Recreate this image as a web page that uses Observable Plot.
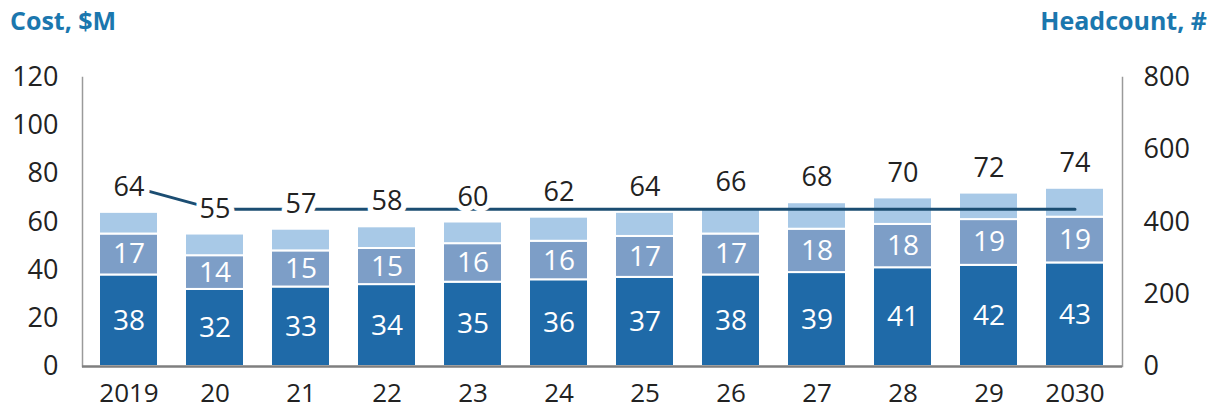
<!DOCTYPE html>
<html><head><meta charset="utf-8">
<script src="https://cdn.jsdelivr.net/npm/d3@7"></script>
<script src="https://cdn.jsdelivr.net/npm/@observablehq/plot@0.6"></script>
<style>
body{margin:0;background:#fff;font-family:"Open Sans",sans-serif;}
#titles{height:40px;display:flex;justify-content:space-between;align-items:center;padding:0 4px 0 10px;font-weight:700;font-size:25px;color:#1b77ae;}
</style></head><body>
<div id="titles"><span>Cost, $M</span><span>Headcount, #</span></div>
<div id="chart"></div>
<script>
const years = ["2019","20","21","22","23","24","25","26","27","28","29","2030"];
const base = [38,32,33,34,35,36,37,38,39,41,42,43];
const middle = [17,14,15,15,16,16,17,17,18,18,19,19];
const upper = [9,9,9,9,9,10,10,11,11,11,11,12];
const totals = [64,55,57,58,60,62,64,66,68,70,72,74];
const headcount = [500,435,435,435,435,435,435,435,435,435,435,435];
const costTicks = [0,20,40,60,80,100,120];
const headTicks = [0,200,400,600,800];
const costMax = 120, headMax = 800;

const segColors = {base:"#1f6aa8", middle:"#7d9ec7", upper:"#a8c9e7"};
const rows = years.flatMap((y,i) => [
  {year:y, seg:"base", value:base[i]},
  {year:y, seg:"middle", value:middle[i]},
  {year:y, seg:"upper", value:upper[i]}
]);
const inner = years.flatMap((y,i) => [
  {year:y, pos: base[i]/2, text: base[i]},
  {year:y, pos: base[i] + middle[i]/2, text: middle[i]}
]);
const hc = years.map((y,i) => ({year:y, v: headcount[i]*costMax/headMax}));
const tot = years.map((y,i) => ({year:y, v: totals[i]}));

const chart = Plot.plot({
  width: 1211, height: 371,
  marginLeft: 82, marginRight: 89, marginTop: 37, marginBottom: 45,
  style: {fontFamily: "Open Sans", fontSize: "26px", color: "#222", background: "white"},
  x: {domain: years, paddingInner: 0.31, paddingOuter: 0.155, label: null},
  y: {domain: [0, costMax], label: null},
  marks: [
    Plot.barY(rows, {x:"year", y:"value", z:"seg", fill: d => segColors[d.seg], stroke:"white", strokeWidth:2}),
    Plot.frame({anchor:"left", stroke:"#9a9a9a", strokeWidth:1.5}),
    Plot.frame({anchor:"right", stroke:"#9a9a9a", strokeWidth:1.5}),
    Plot.ruleY([0], {stroke:"#7f7f7f", strokeWidth:2.5}),
    Plot.line(hc, {x:"year", y:"v", stroke:"#1b4d72", strokeWidth:3}),
    Plot.text(inner, {x:"year", y:"pos", text:"text", fill:"white", fontSize:28}),
    Plot.text(tot, {x:"year", y:"v", text:"v", dy:-25, fill:"#222", stroke:"white", strokeWidth:11, fontSize:27}),
    Plot.axisY(costTicks, {anchor:"left", tickSize:0, tickPadding:24, label:null, fontSize:27}),
    Plot.axisY(headTicks.map(h => h*costMax/headMax), {anchor:"right", tickSize:0, tickPadding:21, label:null, fontSize:27, tickFormat: d => Math.round(d*headMax/costMax)}),
    Plot.axisX({tickSize:0, tickPadding:17, label:null, fontSize:26})
  ]
});
document.getElementById("chart").appendChild(chart);
</script>
</body></html>
